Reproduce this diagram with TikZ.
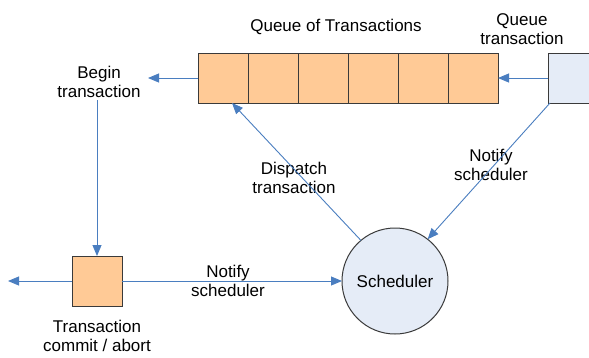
\documentclass[tikz,border=0pt]{standalone}
\usepackage{fontspec}
\setmainfont{Liberation Sans}
\usetikzlibrary{arrows.meta}
\definecolor{cellfill}{HTML}{FFCA96}
\definecolor{paleblue}{HTML}{E5ECF7}
\definecolor{linkblue}{HTML}{4A7EC0}
\definecolor{edgegray}{HTML}{3A3A3A}
\begin{document}
\begin{tikzpicture}[x=1pt,y=-1pt,
  every node/.style={font=\fontsize{17}{19}\selectfont},
  cell/.style={draw=edgegray,line width=1pt,fill=cellfill,minimum size=50pt,inner sep=0pt,outer sep=0pt},
  pale/.style={draw=edgegray,line width=1pt,fill=paleblue,inner sep=0pt,outer sep=0pt},
  label/.style={align=center,inner sep=0pt},
  link/.style={draw=linkblue,line width=0.9pt,-{Triangle[length=11pt,width=9pt]}}]
\useasboundingbox (0,0) rectangle (589,357);
\clip (0,0) rectangle (589,357);
\fill[white] (0,0) rectangle (589,357);

% queue cells
\foreach \i in {1,...,6}
  \node[cell] (q\i) at ({173+50*\i},78) {};
\node[pale,minimum size=50pt] (qt) at (573,78) {};

% small transaction box and scheduler
\node[cell] (tx) at (97,281) {};
\node[pale,circle,minimum size=106pt] (sched) at (395,281) {Scheduler};

% labels
\node[label] (qlabel) at (336,27) {Queue of Transactions};
\node[label] (qtlabel) at (522,29) {Queue\\transaction};
\node[label] (begin) at (99,82) {Begin\\transaction};
\node[label] (dispatch) at (294,178) {Dispatch\\transaction};
\node[label] (notifyA) at (491,165) {Notify\\scheduler};
\node[label] (notifyB) at (228,281) {Notify\\scheduler};
\node[label] (commit) at (97,336) {Transaction\\commit / abort};

% free ends
\coordinate (beginend) at (148,78);
\coordinate (beginfoot) at (97,100);
\coordinate (outend) at (8,281);

% connectors
\draw[link] (qt.west) -- (q6.east);
\draw[link] (q1.west) -- (beginend);
\draw[link] (beginfoot) -- (tx.north);
\draw[link] (tx.west) -- (outend);
\draw[link] (tx.east) -- (sched.west);
\draw[link] (sched.130) -- ([xshift=9pt]q1.south);
\draw[link] ([xshift=2pt]qt.south west) -- (sched.52);
\end{tikzpicture}
\end{document}
